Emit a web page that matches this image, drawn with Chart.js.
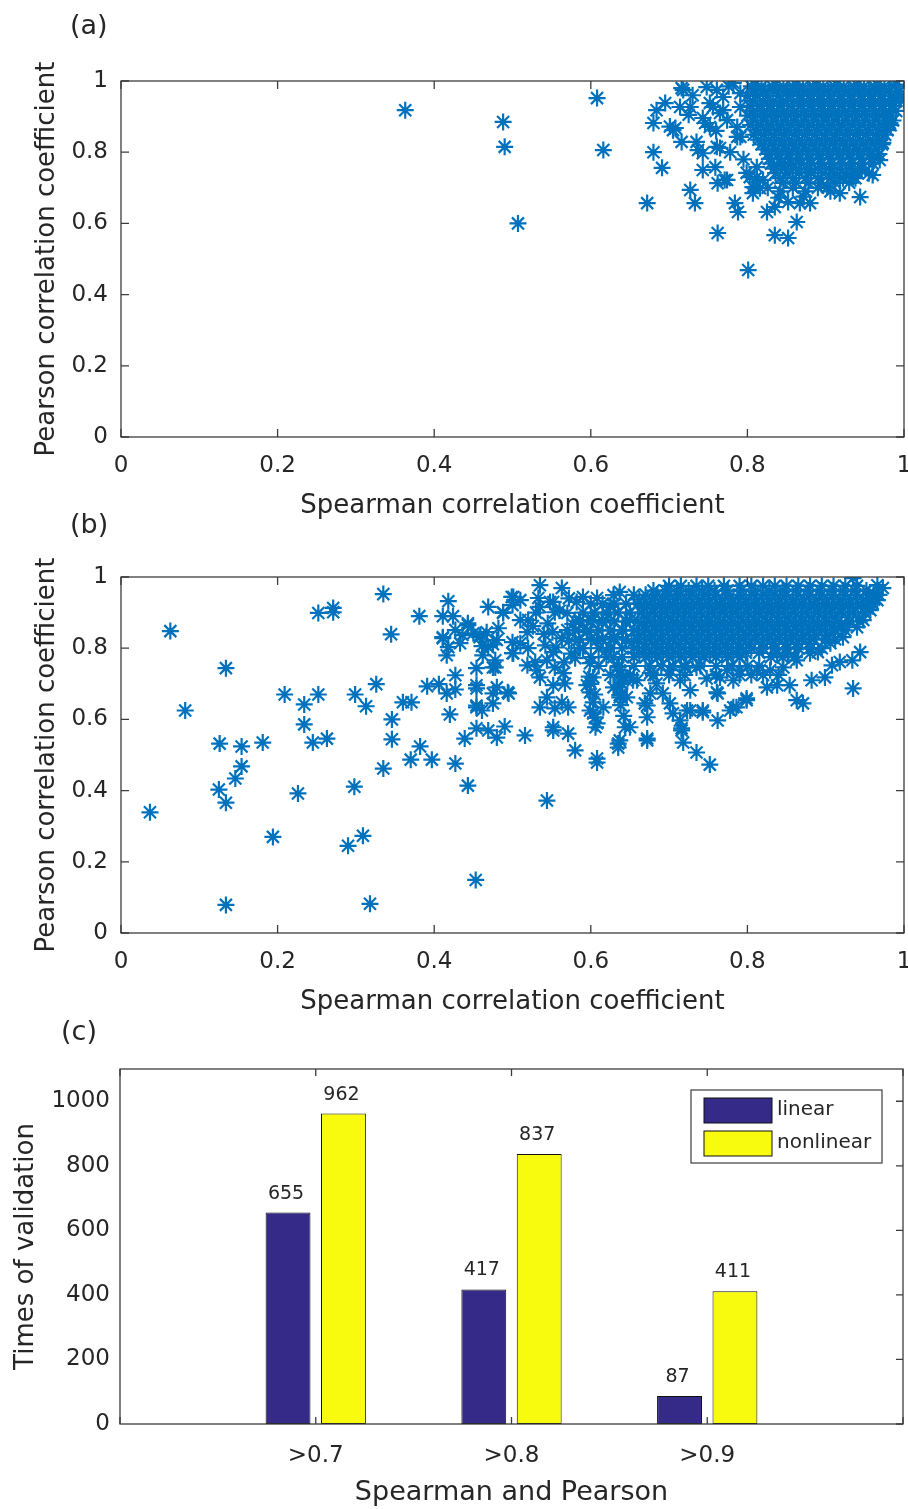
<!DOCTYPE html>
<html>
<head>
<meta charset="utf-8">
<script src="https://cdn.jsdelivr.net/npm/chart.js"></script>
<style>
  body { margin: 0; background: #fff; }
  #fig { position: relative; width: 908px; height: 1509px; overflow: hidden; }
  canvas { position: absolute; left: 0; }
</style>
</head>
<body>
<div id="fig">
  <canvas id="chartA" width="916" height="530" style="top:0px;width:916px;height:530px"></canvas>
  <canvas id="chartB" width="916" height="530" style="top:496px;width:916px;height:530px"></canvas>
  <canvas id="chartC" width="908" height="521" style="top:988px;width:908px;height:521px"></canvas>
</div>
<script>
// tick values
const unitTicks = [0, 0.2, 0.4, 0.6, 0.8, 1]
const countTicks = [0, 200, 400, 600, 800, 1000]

// (c) bar data
const categories = ['', '>0.7', '>0.8', '>0.9', '']
const linearCounts = [null, 655, 417, 87, null]
const nonlinearCounts = [null, 962, 837, 411, null]

// (a) scattered points [spearman, pearson]
const scatterA = [
  [0.363,0.918],[0.488,0.885],[0.490,0.815],[0.507,0.600],[0.608,0.952],[0.616,0.806],[0.672,0.657],
  [0.680,0.882],[0.680,0.800],[0.691,0.756],[0.684,0.918],[0.695,0.938],[0.708,0.868],[0.705,0.862],
  [0.716,0.829],[0.714,0.927],[0.716,0.980],[0.727,0.927],[0.727,0.694],[0.733,0.657],[0.735,0.829],
  [0.737,0.806],[0.743,0.797],[0.743,0.750],[0.743,0.896],[0.746,0.882],[0.752,0.871],[0.748,0.983],
  [0.761,0.975],[0.756,0.927],[0.765,0.812],[0.759,0.758],[0.762,0.713],[0.771,0.722],[0.762,0.573],
  [0.769,0.918],[0.774,0.890],[0.784,0.657],[0.788,0.632],[0.782,0.995],[0.787,0.843],[0.791,0.966],
  [0.799,0.742],[0.801,0.469],[0.807,0.685],[0.812,0.730],[0.816,0.699],[0.825,0.632],[0.835,0.646],
  [0.835,0.567],[0.852,0.559],[0.852,0.660],[0.863,0.604],[0.867,0.657],[0.880,0.657],[0.902,0.702],
  [0.918,0.685],[0.944,0.674],[0.935,0.730],[0.960,0.736],[0.969,0.778],[0.973,0.826],[0.982,0.882],
  [0.995,0.955],[1.000,0.945],[0.918,0.728],
  [0.718,0.975],[0.752,0.938],[0.761,0.815],[0.765,0.910],[0.769,0.955],[0.774,0.722],[0.787,0.871],
  [0.791,0.843],[0.791,0.927],[0.803,0.730],[0.807,0.702],[0.812,0.758],[0.820,0.722],[0.730,0.960],
  [0.776,0.985],[0.760,0.860],[0.778,0.800],[0.795,0.780],[0.725,0.905],[0.701,0.872],
  [0.826,0.700],[0.842,0.690],[0.858,0.700],[0.874,0.690],[0.890,0.700],[0.906,0.690],[0.840,0.672],[0.872,0.675]
]

// (a) dense cluster, one row per pearson value
const clusterA = [
  [0.990, [0.810,0.836,0.862,0.888,0.914,0.940,0.966,0.990]],
  [0.985, [0.805,0.818,0.832,0.846,0.858,0.871,0.884,0.897,0.911,0.923,0.936,0.949,0.962,0.975,0.988]],
  [0.971, [0.810,0.823,0.837,0.851,0.864,0.877,0.890,0.903,0.916,0.929,0.942,0.955,0.968,0.981,0.994]],
  [0.958, [0.800,0.813,0.826,0.840,0.852,0.866,0.879,0.892,0.905,0.918,0.931,0.944,0.957,0.970,0.983,0.996]],
  [0.944, [0.807,0.820,0.833,0.846,0.859,0.872,0.885,0.898,0.911,0.924,0.937,0.950,0.963,0.976,0.990]],
  [0.930, [0.803,0.816,0.829,0.842,0.855,0.868,0.881,0.894,0.907,0.920,0.933,0.946,0.959,0.972,0.985]],
  [0.916, [0.808,0.821,0.834,0.847,0.860,0.873,0.886,0.899,0.912,0.925,0.938,0.951,0.964,0.977,0.990]],
  [0.903, [0.800,0.813,0.826,0.839,0.852,0.865,0.878,0.891,0.904,0.917,0.930,0.943,0.956,0.969,0.982]],
  [0.889, [0.807,0.820,0.833,0.846,0.859,0.872,0.885,0.898,0.911,0.924,0.937,0.950,0.963,0.976,0.986]],
  [0.876, [0.804,0.817,0.830,0.843,0.856,0.869,0.882,0.895,0.908,0.921,0.934,0.947,0.960,0.973,0.983]],
  [0.862, [0.811,0.824,0.837,0.850,0.863,0.876,0.889,0.902,0.915,0.928,0.941,0.954,0.967,0.979]],
  [0.849, [0.808,0.821,0.834,0.847,0.860,0.873,0.886,0.899,0.912,0.925,0.938,0.951,0.964,0.976]],
  [0.835, [0.814,0.827,0.840,0.853,0.866,0.879,0.892,0.905,0.918,0.931,0.944,0.957,0.969]],
  [0.822, [0.818,0.831,0.844,0.857,0.870,0.883,0.896,0.909,0.922,0.935,0.948,0.961,0.972]],
  [0.808, [0.823,0.836,0.849,0.862,0.875,0.888,0.901,0.914,0.927,0.940,0.953,0.965]],
  [0.795, [0.826,0.839,0.852,0.865,0.878,0.891,0.904,0.917,0.930,0.943,0.956,0.968]],
  [0.781, [0.828,0.841,0.854,0.867,0.880,0.893,0.906,0.919,0.932,0.945,0.958]],
  [0.768, [0.830,0.843,0.856,0.869,0.882,0.895,0.908,0.921,0.934,0.947,0.960]],
  [0.754, [0.834,0.848,0.862,0.876,0.890,0.904,0.918,0.932,0.946]],
  [0.741, [0.836,0.851,0.866,0.881,0.896,0.911,0.926,0.941,0.955]],
  [0.727, [0.842,0.858,0.874,0.890,0.906,0.922,0.938]],
  [0.714, [0.846,0.862,0.878,0.894,0.912,0.930]]
]

// (b) scattered points
const scatterB = [
  [0.037,0.339],[0.063,0.848],[0.082,0.625],[0.134,0.744],[0.126,0.532],[0.125,0.403],[0.134,0.366],
  [0.146,0.434],[0.154,0.468],[0.154,0.524],[0.134,0.079],[0.181,0.535],[0.194,0.270],[0.209,0.670],
  [0.226,0.392],[0.234,0.642],[0.234,0.586],[0.245,0.535],[0.252,0.670],[0.263,0.546],[0.252,0.899],
  [0.271,0.901],[0.271,0.913],[0.290,0.245],[0.309,0.273],[0.299,0.670],[0.298,0.411],[0.313,0.637],
  [0.318,0.082],[0.326,0.699],[0.335,0.952],[0.335,0.462],[0.345,0.839],[0.346,0.600],[0.346,0.544],
  [0.360,0.648],[0.371,0.648],[0.370,0.487],[0.382,0.524],[0.381,0.890],[0.391,0.693],[0.397,0.487],
  [0.406,0.699],[0.411,0.828],[0.411,0.890],[0.418,0.932],[0.424,0.890],[0.416,0.673],[0.420,0.614],
  [0.427,0.476],[0.427,0.724],[0.427,0.684],[0.439,0.546],[0.443,0.414],[0.453,0.149],[0.443,0.865],
  [0.454,0.744],[0.454,0.687],[0.454,0.634],[0.454,0.575],[0.458,0.831],[0.469,0.916],[0.469,0.569],
  [0.480,0.549],[0.490,0.580],[0.478,0.746],[0.475,0.673],[0.495,0.673],[0.488,0.901],[0.499,0.944],
  [0.501,0.786],[0.475,0.811],[0.467,0.845],[0.461,0.806],
  [0.535,0.977],[0.563,0.969],[0.544,0.372],[0.580,0.513],[0.608,0.490],[0.608,0.479],[0.644,0.578],
  [0.635,0.532],[0.635,0.521],[0.571,0.560],[0.552,0.578],[0.552,0.569],[0.516,0.555],
  [0.454,0.696],[0.454,0.639],[0.461,0.625],[0.475,0.645],[0.480,0.690],[0.494,0.676],[0.535,0.634],
  [0.544,0.662],[0.554,0.631],[0.571,0.634],[0.563,0.648],[0.595,0.696],[0.599,0.676],[0.603,0.648],
  [0.603,0.617],[0.616,0.634],[0.608,0.589],[0.637,0.662],[0.629,0.690],[0.646,0.662],[0.654,0.710],
  [0.641,0.718],[0.635,0.746],[0.475,0.746],[0.462,0.780],[0.478,0.766],[0.469,0.803],[0.450,0.842],
  [0.482,0.856],[0.443,0.870],[0.433,0.814],[0.418,0.803],[0.411,0.831],[0.427,0.851],[0.416,0.780],
  [0.500,0.817],[0.500,0.786],[0.510,0.814],[0.520,0.800],[0.519,0.752],[0.531,0.738],[0.535,0.718],
  [0.529,0.761],[0.544,0.766],[0.542,0.808],[0.552,0.789],[0.554,0.746],[0.565,0.730],[0.567,0.701],
  [0.552,0.696],[0.580,0.772],[0.586,0.800],[0.563,0.828],[0.570,0.851],[0.551,0.845],[0.519,0.845],
  [0.510,0.879],[0.520,0.879],[0.488,0.899],[0.500,0.921],[0.510,0.935],[0.501,0.944],[0.533,0.941],
  [0.535,0.916],[0.552,0.930],[0.554,0.901],[0.570,0.899],[0.582,0.930],[0.590,0.944],[0.608,0.941],
  [0.629,0.949],[0.637,0.958],[0.625,0.916],[0.586,0.879],[0.595,0.845],[0.603,0.879],[0.608,0.823],
  [0.620,0.794],[0.629,0.831],[0.629,0.775],[0.637,0.738],[0.637,0.690],[0.599,0.758],[0.603,0.718],
  [0.620,0.879],[0.641,0.851],[0.650,0.879],[0.652,0.814],[0.436,0.837],[0.459,0.837],[0.480,0.823],
  [0.935,0.687],[0.944,0.789],[0.871,0.645],[0.863,0.654],[0.882,0.710],[0.899,0.718],[0.908,0.752],
  [0.918,0.761],[0.934,0.766],[0.973,0.969],[0.966,0.977],[0.935,0.997],[0.890,0.789],[0.854,0.696],
  [0.838,0.696],[0.825,0.690],[0.799,0.659],[0.786,0.634],[0.778,0.625],[0.762,0.597],[0.762,0.673],
  [0.743,0.625],[0.727,0.625],[0.735,0.507],[0.752,0.473],[0.718,0.535],[0.716,0.575],[0.714,0.597],
  [0.705,0.617],[0.672,0.546],[0.672,0.606],[0.669,0.645],[0.650,0.578],[0.692,0.673],[0.684,0.701],
  [0.727,0.682],[0.714,0.710],[0.748,0.715],[0.765,0.718],[0.774,0.738],[0.790,0.738],[0.659,0.710],
  [0.676,0.730],[0.701,0.738],[0.720,0.746],[0.735,0.746],[0.782,0.710],[0.812,0.738],[0.829,0.738],
  [0.846,0.746],[0.863,0.766],[0.880,0.786],[0.906,0.814],[0.922,0.831],[0.940,0.859],[0.948,0.879],
  [0.957,0.907],[0.966,0.935],[0.961,0.955],
  [0.716,0.569],[0.672,0.541],[0.672,0.639],[0.637,0.541],[0.606,0.578],[0.606,0.606],[0.599,0.625],
  [0.637,0.668],[0.676,0.673],[0.701,0.645],[0.723,0.625],[0.743,0.620],[0.761,0.676],[0.782,0.634],
  [0.799,0.654],[0.600,0.700],[0.605,0.670],[0.598,0.720],[0.640,0.720],[0.638,0.640],[0.642,0.610],
  [0.640,0.700],[0.530,0.900],[0.545,0.870],[0.560,0.905],[0.572,0.820],[0.556,0.802],[0.575,0.785],
  [0.540,0.840],[0.566,0.760],[0.526,0.862],[0.548,0.930],[0.572,0.940],[0.577,0.868]
]

// (b) dense cluster
const clusterB = [
  [0.975, [0.700,0.715,0.735,0.750,0.770,0.790,0.805,0.820,0.835,0.850,0.865,0.880,0.895,0.910,0.925,0.940]],
  [0.962, [0.680,0.695,0.710,0.725,0.742,0.758,0.775,0.792,0.810,0.828,0.845,0.862,0.878,0.893,0.908,0.922,0.937,0.952]],
  [0.950, [0.655,0.670,0.685,0.700,0.715,0.730,0.745,0.760,0.775,0.790,0.805,0.820,0.835,0.850,0.865,0.880,0.895,0.910,0.925,0.940,0.955,0.968]],
  [0.937, [0.662,0.678,0.692,0.708,0.722,0.738,0.752,0.768,0.782,0.798,0.812,0.828,0.842,0.858,0.872,0.888,0.902,0.918,0.932,0.948,0.962]],
  [0.925, [0.600,0.615,0.630,0.645,0.660,0.675,0.690,0.705,0.720,0.735,0.750,0.765,0.780,0.795,0.810,0.825,0.840,0.855,0.870,0.885,0.900,0.915,0.930,0.945,0.960]],
  [0.912, [0.668,0.682,0.698,0.712,0.728,0.742,0.758,0.772,0.788,0.802,0.818,0.832,0.848,0.862,0.878,0.892,0.908,0.922,0.938,0.953]],
  [0.900, [0.590,0.605,0.620,0.635,0.650,0.665,0.680,0.695,0.710,0.725,0.740,0.755,0.770,0.785,0.800,0.815,0.830,0.845,0.860,0.875,0.890,0.905,0.920,0.935,0.950]],
  [0.887, [0.672,0.688,0.702,0.718,0.732,0.748,0.762,0.778,0.792,0.808,0.822,0.838,0.852,0.868,0.882,0.898,0.912,0.928]],
  [0.875, [0.585,0.600,0.615,0.630,0.645,0.660,0.675,0.690,0.705,0.720,0.735,0.750,0.765,0.780,0.795,0.810,0.825,0.840,0.855,0.870,0.885,0.900,0.915,0.930,0.943]],
  [0.862, [0.668,0.682,0.698,0.712,0.728,0.742,0.758,0.772,0.788,0.802,0.818,0.832,0.848,0.862,0.878,0.892,0.908,0.920]],
  [0.850, [0.580,0.595,0.610,0.625,0.640,0.655,0.670,0.685,0.700,0.715,0.730,0.745,0.760,0.775,0.790,0.805,0.820,0.835,0.850,0.865,0.880,0.895,0.910,0.925]],
  [0.837, [0.662,0.678,0.692,0.708,0.722,0.738,0.752,0.768,0.782,0.798,0.812,0.828,0.842,0.858,0.872,0.888,0.902]],
  [0.825, [0.585,0.600,0.615,0.630,0.645,0.660,0.675,0.690,0.705,0.720,0.735,0.750,0.765,0.780,0.795,0.810,0.825,0.840,0.855,0.870,0.885,0.900,0.912]],
  [0.812, [0.668,0.682,0.698,0.712,0.728,0.742,0.758,0.772,0.788,0.802,0.818,0.832,0.848,0.862,0.878]],
  [0.800, [0.590,0.610,0.625,0.640,0.655,0.670,0.685,0.700,0.715,0.730,0.745,0.760,0.775,0.790,0.805,0.820,0.835,0.850,0.865,0.880,0.895]],
  [0.787, [0.662,0.678,0.692,0.708,0.722,0.738,0.752,0.768,0.782,0.798,0.815,0.838,0.852]],
  [0.775, [0.600,0.620,0.640,0.655,0.670,0.685,0.700,0.715,0.730,0.745,0.760,0.775,0.790,0.830,0.845,0.860]],
  [0.750, [0.610,0.635,0.655,0.675,0.690,0.705,0.720,0.740,0.760,0.780,0.800,0.815]],
  [0.725, [0.625,0.650,0.680,0.700,0.720,0.760,0.790,0.805,0.820,0.840]]
]

const BLUE = '#0072BD'
const TXT = '#262626'
const AXIS = '#3c3c3c'
const FAMILY = "'DejaVu Sans', sans-serif"

function toPoints(pairs, rows) {
  var pts = pairs.map(p => ({ x: p[0], y: p[1] }))
  rows.forEach(r => r[1].forEach(x => pts.push({ x: x, y: r[0] })))
  return pts
}

// keep the plot box where it is, whatever the edge tick labels need
function fixX(h) {
  return s => { s.height = h; s.paddingLeft = 0; s.paddingRight = 0 }
}
function fixY(w) {
  return s => { s.width = w; s.paddingTop = 0; s.paddingBottom = 0 }
}

// box around the plot, inward ticks and the panel letter
const framePlugin = {
  id: 'frame',
  afterDatasetsDraw(chart, args, opts) {
    const ctx = chart.ctx
    const a = chart.chartArea
    const sx = chart.scales.x
    const sy = chart.scales.y
    ctx.save()
    ctx.strokeStyle = AXIS
    ctx.lineWidth = 1.3
    ctx.beginPath()
    sx.ticks.forEach((t, i) => {
      const px = sx.getPixelForTick(i)
      ctx.moveTo(px, a.bottom); ctx.lineTo(px, a.bottom - opts.len)
      ctx.moveTo(px, a.top); ctx.lineTo(px, a.top + opts.len)
    })
    sy.ticks.forEach((t, i) => {
      const py = sy.getPixelForTick(i)
      if (opts.leftTicks) { ctx.moveTo(a.left, py); ctx.lineTo(a.left + opts.len, py) }
      ctx.moveTo(a.right, py); ctx.lineTo(a.right - opts.len, py)
    })
    ctx.stroke()
    ctx.strokeRect(a.left, a.top, a.right - a.left, a.bottom - a.top)
    ctx.fillStyle = TXT
    ctx.font = '27px ' + FAMILY
    ctx.textAlign = 'left'
    ctx.textBaseline = 'middle'
    ctx.fillText(opts.letter, opts.letterX, opts.letterY)
    ctx.restore()
  }
}

function scatterChart(id, points, letter, letterY) {
  return new Chart(document.getElementById(id), {
    type: 'scatter',
    data: {
      datasets: [{
        data: points,
        pointStyle: 'star',
        pointRadius: 8.5,
        pointHoverRadius: 8.5,
        pointBorderColor: BLUE,
        pointBackgroundColor: BLUE,
        pointBorderWidth: 2.2
      }]
    },
    options: {
      responsive: false,
      animation: false,
      devicePixelRatio: 1,
      events: [],
      layout: { padding: { top: 81, right: 12, left: 0, bottom: 0 } },
      plugins: {
        legend: { display: false },
        tooltip: { enabled: false },
        frame: { len: 8, leftTicks: true, letter: letter, letterX: 70, letterY: letterY }
      },
      scales: {
        x: {
          type: 'linear', min: 0, max: 1,
          grid: { display: false, drawTicks: false },
          border: { display: false },
          afterBuildTicks: s => { s.ticks = unitTicks.map(v => ({ value: v })) },
          afterFit: fixX(93),
          ticks: { padding: 15, color: TXT, font: { family: FAMILY, size: 23 }, maxRotation: 0, autoSkip: false, callback: v => String(v) },
          title: { display: true, text: 'Spearman correlation coefficient', color: TXT, font: { family: FAMILY, size: 26 }, padding: { top: 0, bottom: 8 } }
        },
        y: {
          type: 'linear', min: 0, max: 1,
          grid: { display: false, drawTicks: false },
          border: { display: false },
          afterBuildTicks: s => { s.ticks = unitTicks.map(v => ({ value: v })) },
          afterFit: fixY(121),
          ticks: { padding: 13, color: TXT, font: { family: FAMILY, size: 23 }, autoSkip: false, callback: v => String(v) },
          title: { display: true, text: 'Pearson correlation coefficient', color: TXT, font: { family: FAMILY, size: 26 }, padding: { top: 32, bottom: 0 } }
        }
      }
    },
    plugins: [framePlugin]
  })
}

scatterChart('chartA', toPoints(scatterA, clusterA), '(a)', 27)
scatterChart('chartB', toPoints(scatterB, clusterB), '(b)', 30)

// value labels over the bars and the boxed legend
const barExtras = {
  id: 'barExtras',
  afterDraw(chart) {
    const ctx = chart.ctx
    const a = chart.chartArea
    ctx.save()
    ctx.fillStyle = TXT
    ctx.font = '19px ' + FAMILY
    ctx.textAlign = 'center'
    ctx.textBaseline = 'alphabetic'
    chart.data.datasets.forEach((ds, di) => {
      chart.getDatasetMeta(di).data.forEach((el, i) => {
        if (ds.data[i] == null) return
        ctx.fillText(String(ds.data[i]), el.x - 2, el.y - 14)
      })
    })
    const bw = 191, bh = 73
    const bx = a.right - 21 - bw, by = a.top + 21
    ctx.fillStyle = '#fff'
    ctx.fillRect(bx, by, bw, bh)
    ctx.strokeStyle = AXIS
    ctx.lineWidth = 1.2
    ctx.strokeRect(bx, by, bw, bh)
    ctx.font = '20px ' + FAMILY
    ctx.textAlign = 'left'
    ctx.textBaseline = 'middle'
    chart.data.datasets.forEach((ds, di) => {
      const sy = by + 8 + di * 33
      ctx.fillStyle = ds.backgroundColor
      ctx.fillRect(bx + 13, sy, 68, 25)
      ctx.strokeStyle = '#111'
      ctx.lineWidth = 1
      ctx.strokeRect(bx + 13, sy, 68, 25)
      ctx.fillStyle = TXT
      ctx.fillText(ds.label, bx + 86, sy + 12)
    })
    ctx.restore()
  }
}

new Chart(document.getElementById('chartC'), {
  type: 'bar',
  data: {
    labels: categories,
    datasets: [
      { label: 'linear', data: linearCounts, backgroundColor: 'rgb(53,42,135)', borderColor: '#111', borderWidth: 1, borderSkipped: false, categoryPercentage: 0.566, barPercentage: 0.81 },
      { label: 'nonlinear', data: nonlinearCounts, backgroundColor: 'rgb(249,251,14)', borderColor: '#111', borderWidth: 1, borderSkipped: false, categoryPercentage: 0.566, barPercentage: 0.81 }
    ]
  },
  options: {
    responsive: false,
    animation: false,
    devicePixelRatio: 1,
    events: [],
    layout: { padding: { top: 81, right: 5, left: 0, bottom: 0 } },
    plugins: {
      legend: { display: false },
      tooltip: { enabled: false },
      frame: { len: 7, leftTicks: false, letter: '(c)', letterX: 61, letterY: 45 }
    },
    scales: {
      x: {
        type: 'category', offset: false,
        grid: { display: false, drawTicks: false },
        border: { display: false },
        afterFit: fixX(85),
        ticks: { padding: 18, color: TXT, font: { family: FAMILY, size: 23 }, maxRotation: 0, autoSkip: false },
        title: { display: true, text: 'Spearman and Pearson', color: TXT, font: { family: FAMILY, size: 27 }, padding: { top: 0, bottom: 0 } }
      },
      y: {
        type: 'linear', min: 0, max: 1100,
        grid: { display: false, drawTicks: false },
        border: { display: false },
        afterBuildTicks: s => { s.ticks = countTicks.map(v => ({ value: v })) },
        afterFit: fixY(120),
        ticks: { padding: 10, color: TXT, font: { family: FAMILY, size: 23 }, autoSkip: false, callback: v => String(v) },
        title: { display: true, text: 'Times of validation', color: TXT, font: { family: FAMILY, size: 26 }, padding: { top: 11, bottom: 0 } }
      }
    }
  },
  plugins: [framePlugin, barExtras]
})
</script>
</body>
</html>
